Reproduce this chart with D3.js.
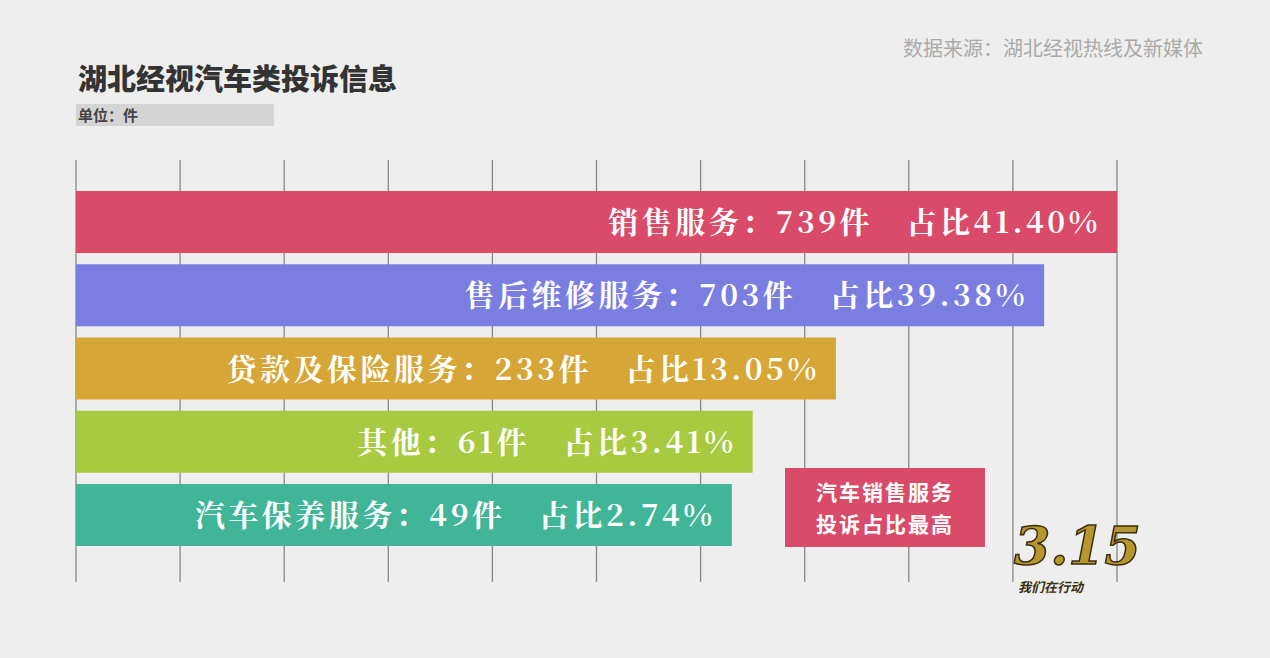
<!DOCTYPE html><html><head><meta charset="utf-8"><script src="https://d3js.org/d3.v7.min.js"></script>
<style>body{margin:0;background:#eeeeee}</style></head><body><script>
const categories=["销售服务","售后维修服务","贷款及保险服务","其他","汽车保养服务"];
const values=[739,703,233,61,49];
const shares=["41.40%","39.38%","13.05%","3.41%","2.74%"];
const barUnits=[10,9.3,7.3,6.5,6.3]; // displayed bar length in grid units (chart is not to scale)
const colors=["#d94b68","#7b7ee1","#d6a636","#a8ca40","#41b597"];
const W=1270,H=658;
const svg=d3.select("body").append("svg").attr("width",W).attr("height",H);
svg.append("rect").attr("width",W).attr("height",H).attr("fill","#eeeeee");
const x=d3.scaleLinear().domain([0,10]).range([76,1117]);
const y=d3.scaleBand().domain(categories).range([191,546]).paddingInner(0.1536).paddingOuter(0);
svg.append("g").selectAll("line").data(d3.range(0,11)).join("line")
 .attr("x1",d=>x(d)).attr("x2",d=>x(d)).attr("y1",160).attr("y2",582)
 .attr("stroke","#888").attr("stroke-width",1.3);
svg.append("g").selectAll("rect").data(categories).join("rect")
 .attr("x",x(0)).attr("y",d=>y(d)).attr("height",y.bandwidth())
 .attr("width",(d,i)=>x(barUnits[i])-x(0)).attr("fill",(d,i)=>colors[i]);
svg.append("g").selectAll("text").data(categories).join("text")
 .attr("x",(d,i)=>x(barUnits[i])-16).attr("y",d=>y(d)+y.bandwidth()/2+11)
 .attr("text-anchor","end").attr("fill","#fff").attr("font-weight","bold").attr("font-size",30)
 .attr("letter-spacing",3.5)
 .attr("font-family","'Noto Serif CJK SC','Noto Sans CJK SC',serif").attr("xml:space","preserve")
 .text((d,i)=>`${d}：${values[i]}件　占比${shares[i]}`);
svg.append("text").attr("x",78).attr("y",90).attr("font-size",29).attr("font-weight","900")
 .attr("fill","#333").attr("font-family","'Noto Sans CJK SC'").text("湖北经视汽车类投诉信息");
svg.append("rect").attr("x",76).attr("y",104).attr("width",198).attr("height",22).attr("fill","#d4d4d4");
svg.append("text").attr("x",78).attr("y",121).attr("font-size",15).attr("font-weight","bold")
 .attr("fill","#444").attr("font-family","'Noto Sans CJK SC'").text("单位：件");
svg.append("text").attr("x",1203).attr("y",56).attr("text-anchor","end").attr("font-size",20)
 .attr("fill","#aaa").attr("font-family","'Noto Sans CJK SC'").text("数据来源：湖北经视热线及新媒体");
svg.append("rect").attr("x",785).attr("y",468).attr("width",200).attr("height",79).attr("fill","#d94b68");
["汽车销售服务","投诉占比最高"].forEach((t,i)=>svg.append("text").attr("x",885).attr("y",500+i*32)
 .attr("text-anchor","middle").attr("fill","#fff").attr("font-size",21).attr("font-weight","bold")
 .attr("letter-spacing",2).attr("font-family","'Noto Sans CJK SC'").text(t));
svg.append("text").attr("x",1014).attr("y",564).attr("font-size",52).attr("font-weight","bold")
 .attr("font-style","italic").attr("fill","#b8962e").attr("stroke","#3a2e10").attr("stroke-width",1.5)
 .attr("font-family","'DejaVu Serif'").text("3.15");
svg.append("text").attr("x",1018).attr("y",592).attr("font-size",13).attr("font-weight","bold")
 .attr("font-style","italic").attr("fill","#3a2e10").attr("font-family","'Noto Sans CJK SC'").text("我们在行动");
</script></body></html>
